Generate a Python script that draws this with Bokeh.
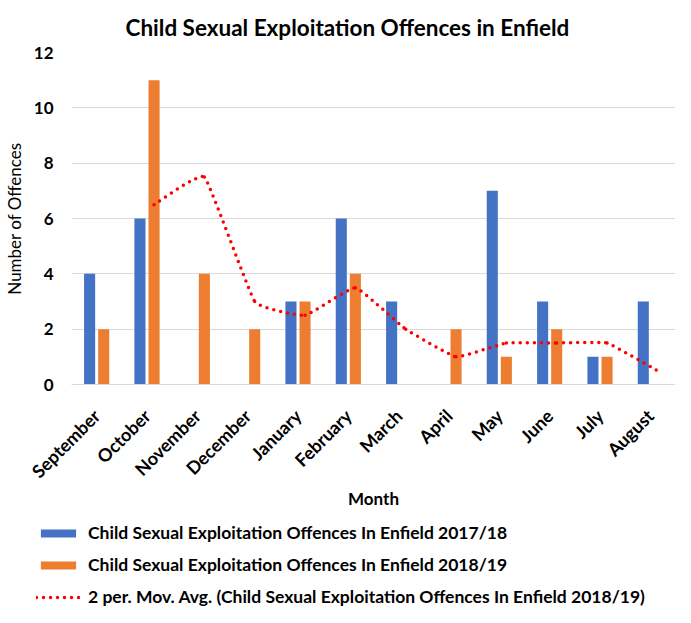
import math
from bokeh.plotting import figure
from bokeh.models import (FactorRange, Range1d, Legend, LegendItem, ColumnDataSource,
                          FixedTicker)
from bokeh.transform import dodge
from bokeh.layouts import column, row
from bokeh.embed import file_html
from bokeh.resources import INLINE

# ---------------- data ----------------
months = ["September", "October", "November", "December", "January", "February",
          "March", "April", "May", "June", "July", "August"]
cse_2017_18 = [4, 6, 0, 0, 3, 6, 3, 0, 7, 3, 1, 3]
cse_2018_19 = [2, 11, 4, 2, 3, 4, 0, 2, 1, 2, 1, 0]
mov_avg_months = ["October", "November", "December", "January", "February", "March",
                  "April", "May", "June", "July", "August"]
mov_avg_2018_19 = [6.5, 7.5, 3, 2.5, 3.5, 2, 1, 1.5, 1.5, 1.5, 0.5]
y_ticks = [0, 2, 4, 6, 8, 10, 12]

label_17 = "Child Sexual Exploitation Offences In Enfield 2017/18"
label_18 = "Child Sexual Exploitation Offences In Enfield 2018/19"
label_ma = "2 per. Mov. Avg. (Child Sexual Exploitation Offences In Enfield 2018/19)"

BLUE = "#4472C4"
ORANGE = "#ED7D31"
RED = "#FF0000"
GRID = "#D9D9D9"
FONT = "Lato"

OFF = 0.14
BAR_W = 0.22

# ---------------- main chart ----------------
src = ColumnDataSource(dict(month=months, a=cse_2017_18, b=cse_2018_19))

p = figure(x_range=FactorRange(factors=months), y_range=Range1d(0, 12),
           width=675, height=515, output_backend="svg", toolbar_location=None,
           title="Child Sexual Exploitation Offences in Enfield",
           min_border_left=62, min_border_right=0, min_border_top=49,
           min_border_bottom=131)

p.title.text_font = FONT
p.title.text_font_size = "22.5px"
p.title.text_font_style = "bold"
p.title.text_color = "#000000"
p.title.align = "left"
p.title.offset = 54
p.title.standoff = 23

p.outline_line_color = None
p.xgrid.grid_line_color = None
p.ygrid.grid_line_color = GRID
p.ygrid.grid_line_width = 1

p.vbar(x=dodge("month", -OFF, range=p.x_range), top="a", width=BAR_W, source=src,
       fill_color=BLUE, line_color=None)
p.vbar(x=dodge("month", OFF, range=p.x_range), top="b", width=BAR_W, source=src,
       fill_color=ORANGE, line_color=None)

# lightly smoothed moving-average trend line (Bezier segments through the MA
# points, placed at the 2018/19 bar positions)
xs = [months.index(m) + 0.5 + OFF for m in mov_avg_months]
ys = list(mov_avg_2018_19)
n = len(xs)
k = 0.05
x0, y0, x1, y1, cx0, cy0, cx1, cy1 = [], [], [], [], [], [], [], []
for i in range(n - 1):
    ip = max(i - 1, 0)
    inn = min(i + 2, n - 1)
    x0.append(xs[i]); y0.append(ys[i])
    x1.append(xs[i + 1]); y1.append(ys[i + 1])
    cx0.append(xs[i] + k * (xs[i + 1] - xs[ip]))
    cy0.append(ys[i] + k * (ys[i + 1] - ys[ip]))
    cx1.append(xs[i + 1] - k * (xs[inn] - xs[i]))
    cy1.append(ys[i + 1] - k * (ys[inn] - ys[i]))
p.bezier(x0=x0, y0=y0, x1=x1, y1=y1, cx0=cx0, cy0=cy0, cx1=cx1, cy1=cy1,
         line_color=RED, line_width=3.5, line_dash="0 7", line_cap="round")

xa = p.xaxis[0]
xa.axis_label = "Month"
xa.axis_label_text_font = FONT
xa.axis_label_text_font_size = "17px"
xa.axis_label_text_font_style = "bold"
xa.axis_label_text_color = "#000000"
xa.axis_label_standoff = -5
xa.major_label_orientation = math.pi / 4
xa.major_label_text_font = FONT
xa.major_label_text_font_size = "18px"
xa.major_label_text_font_style = "bold"
xa.major_label_text_color = "#000000"
xa.major_label_standoff = 22
xa.axis_line_color = GRID
xa.major_tick_line_color = None
xa.minor_tick_line_color = None

ya = p.yaxis[0]
ya.ticker = FixedTicker(ticks=y_ticks)
ya.axis_label = "Number of Offences"
ya.axis_label_text_font = FONT
ya.axis_label_text_font_size = "17px"
ya.axis_label_text_font_style = "normal"
ya.axis_label_text_color = "#000000"
ya.axis_label_standoff = 6
ya.major_label_text_font = FONT
ya.major_label_text_font_size = "17px"
ya.major_label_text_font_style = "bold"
ya.major_label_text_color = "#000000"
ya.major_label_standoff = 12
ya.axis_line_color = None
ya.major_tick_line_color = None
ya.minor_tick_line_color = None

# ---------------- legend panel ----------------
p2 = figure(width=675, height=92, output_backend="svg", toolbar_location=None,
            x_range=Range1d(0, 1), y_range=Range1d(0, 1),
            x_axis_type=None, y_axis_type=None,
            min_border_left=0, min_border_right=0, min_border_top=0,
            min_border_bottom=0)
p2.outline_line_color = None
p2.grid.grid_line_color = None

# legend-only renderers, kept outside the visible range
off = ColumnDataSource(dict(x=[-10, -9], y=[-10, -10], top=[-10, -10]))
g1 = p2.vbar(x="x", top="top", width=0.1, source=off, fill_color=BLUE, line_color=None)
g2 = p2.vbar(x="x", top="top", width=0.1, source=off, fill_color=ORANGE, line_color=None)
g3 = p2.line(x="x", y="y", source=off, line_color=RED, line_width=3.5,
             line_dash="0 7", line_cap="round")

legend = Legend(items=[LegendItem(label=label_17, renderers=[g1]),
                       LegendItem(label=label_18, renderers=[g2]),
                       LegendItem(label=label_ma, renderers=[g3])],
                location=(36, 0), orientation="vertical",
                glyph_width=44, glyph_height=10, label_height=20,
                label_standoff=8, spacing=11, padding=0, margin=0,
                border_line_color=None, background_fill_alpha=0,
                label_text_font=FONT, label_text_font_size="17.5px",
                label_text_font_style="bold", label_text_color="#000000")
p2.add_layout(legend, "center")

layout = column(p, row(p2), spacing=0)

open("out.html", "w").write(file_html(layout, INLINE))
